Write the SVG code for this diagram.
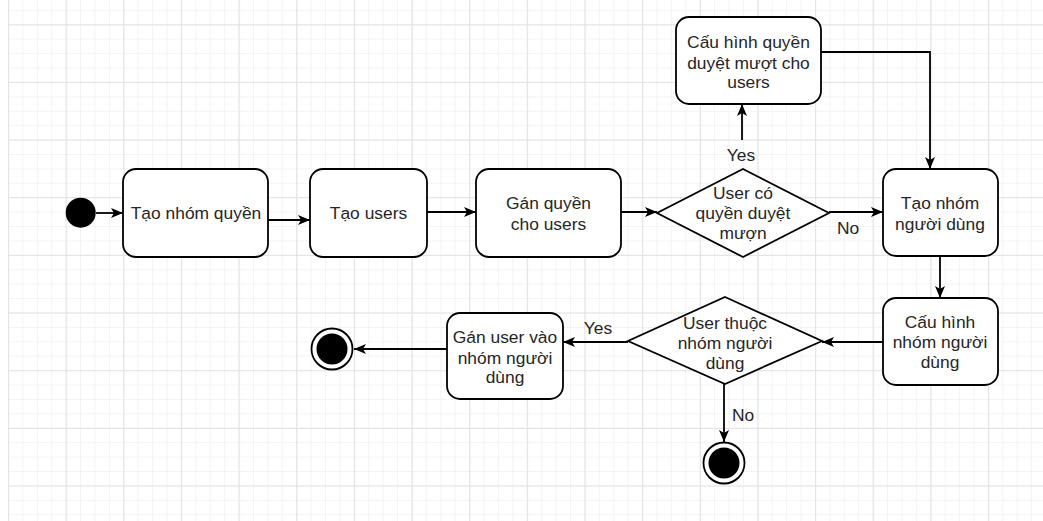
<svg xmlns="http://www.w3.org/2000/svg" width="1043" height="521" viewBox="0 0 1043 521">
<defs>
<pattern id="minor" patternUnits="userSpaceOnUse" x="8" y="24.3" width="14.41" height="14.41">
<path d="M0,0.5 H14.41 M0.5,0 V14.41" stroke="#f3f3f3" stroke-width="1" fill="none"/>
</pattern>
<pattern id="major" patternUnits="userSpaceOnUse" x="8" y="24.3" width="57.65" height="57.65">
<path d="M0,0.5 H57.65 M0.5,0 V57.65" stroke="#e3e3e3" stroke-width="1.2" fill="none"/>
</pattern>
<marker id="arr" markerUnits="userSpaceOnUse" markerWidth="14" markerHeight="12" refX="12" refY="5" orient="auto">
<path d="M0,0 L12,5 L0,10 L3,5 z" fill="#000"/>
</marker>
</defs>
<style>
.box{fill:#fff;stroke:#000;stroke-width:1.8}
.t{font-family:"Liberation Sans",Arial,sans-serif;font-size:17.4px;fill:#262626;text-anchor:middle}
.e{fill:none;stroke:#000;stroke-width:1.8;marker-end:url(#arr)}
</style>
<rect width="1043" height="521" fill="#fff"/>
<rect x="8" y="0" width="1035" height="521" fill="url(#minor)"/>
<rect x="8" y="0" width="1035" height="521" fill="url(#major)"/>

<g id="connectors">
<path class="e" d="M96,213 H123"/>
<path class="e" d="M268,220 H310"/>
<path class="e" d="M427,212 H476"/>
<path class="e" d="M621,212 H657"/>
<path class="e" d="M829,212 H883"/>
<path class="e" d="M742,140 V104"/>
<path class="e" d="M815,52 H930 V169"/>
<path class="e" d="M940,256 V298"/>
<path class="e" d="M883,342 H822"/>
<path class="e" d="M628,342 H563"/>
<path class="e" d="M447,349 H354"/>
<path class="e" d="M724,384 V442"/>
<text class="t" x="741" y="161">Yes</text>
<text class="t" x="848" y="234">No</text>
<text class="t" x="598" y="334">Yes</text>
<text class="t" x="743" y="421">No</text>
</g>

<g id="start"><circle cx="80.7" cy="212.7" r="15" fill="#000"/></g>

<g id="n1"><rect class="box" x="123" y="169" width="145" height="88" rx="13"/>
<text class="t" x="196" y="219">Tạo nhóm quyền</text></g>

<g id="n2"><rect class="box" x="310" y="169" width="117" height="88" rx="13"/>
<text class="t" x="368.5" y="219">Tạo users</text></g>

<g id="n3"><rect class="box" x="476" y="169" width="145" height="88" rx="13"/>
<text class="t" x="548.5" y="209">Gán quyền</text>
<text class="t" x="548.5" y="230">cho users</text></g>

<g id="d1"><path class="box" d="M743,169 L829,213 L743,257 L657,213 Z"/>
<text class="t" x="743" y="199">User có</text>
<text class="t" x="743" y="219">quyền duyệt</text>
<text class="t" x="743" y="239">mượn</text></g>

<g id="n4"><rect class="box" x="676" y="17" width="145" height="87" rx="13"/>
<text class="t" x="748.5" y="48">Cấu hình quyền</text>
<text class="t" x="748.5" y="69">duyệt mượt cho</text>
<text class="t" x="748.5" y="88">users</text></g>

<g id="n5"><rect class="box" x="883" y="169" width="115" height="87" rx="13"/>
<text class="t" x="940" y="209">Tạo nhóm</text>
<text class="t" x="940" y="230">người dùng</text></g>

<g id="n6"><rect class="box" x="883" y="298" width="115" height="87" rx="13"/>
<text class="t" x="940" y="328">Cấu hình</text>
<text class="t" x="940" y="348">nhóm người</text>
<text class="t" x="940" y="368">dùng</text></g>

<g id="d2"><path class="box" d="M725,297 L822,341 L725,384 L628,341 Z"/>
<text class="t" x="725" y="329">User thuộc</text>
<text class="t" x="725" y="349">nhóm người</text>
<text class="t" x="725" y="369">dùng</text></g>

<g id="n7"><rect class="box" x="447" y="313" width="116" height="86" rx="13"/>
<text class="t" x="505" y="343">Gán user vào</text>
<text class="t" x="505" y="364">nhóm người</text>
<text class="t" x="505" y="383">dùng</text></g>

<g id="end1"><circle cx="332" cy="349" r="20.5" fill="#fff" stroke="#000" stroke-width="1.8"/>
<circle cx="332" cy="349" r="15.5" fill="#000"/></g>

<g id="end2"><circle cx="724" cy="463" r="20.5" fill="#fff" stroke="#000" stroke-width="1.8"/>
<circle cx="724" cy="463" r="15.5" fill="#000"/></g>
</svg>
